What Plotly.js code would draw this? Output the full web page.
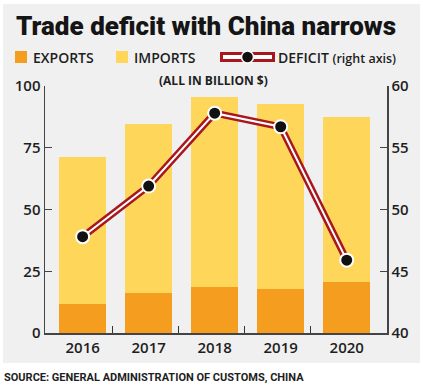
<!DOCTYPE html>
<html>
<head>
<meta charset="utf-8">
<script src="https://cdn.plot.ly/plotly-3.0.1.min.js"></script>
<style>
html,body{margin:0;padding:0;background:#fff;}
#chart{width:423px;height:385px;}
</style>
</head>
<body>
<div id="chart"></div>
<script>
// ---- data (billion $) ----
const years = [2016, 2017, 2018, 2019, 2020];
const exportsVals = [11.9, 16.2, 18.6, 17.8, 20.8];
const importsVals = [59.2, 68.3, 76.8, 74.9, 66.8];
const deficitVals = [47.8, 51.9, 57.8, 56.7, 45.9];
const leftTicks = [0, 25, 50, 75, 100];
const rightTicks = [40, 45, 50, 55, 60];

// ---- style ----
const cExport = '#f49d1e';
const cImport = '#fdd65a';
const cRed = '#a8171d';
const bg = '#f0f0f0';
const ink = '#1e1e1e';
const FONT = 'Roboto, "Open Sans", sans-serif';
const FONT2 = '"Open Sans", Roboto, sans-serif';

// plot-area pixel geometry
const L = 45, R = 387, T = 86, B = 333, W = 423, H = 385;
const px = x => (x - L) / (R - L);
const py = y => (B - y) / (B - T);

const traces = [
  { type: 'bar', x: years, y: exportsVals, name: 'EXPORTS', marker: { color: cExport }, width: 0.71, hoverinfo: 'y' },
  { type: 'bar', x: years, y: importsVals, name: 'IMPORTS', marker: { color: cImport }, width: 0.71, hoverinfo: 'y' },
  { type: 'scatter', mode: 'lines', x: years, y: deficitVals, yaxis: 'y2', line: { color: cRed, width: 7 }, hoverinfo: 'skip' },
  { type: 'scatter', mode: 'lines+markers', x: years, y: deficitVals, yaxis: 'y2', name: 'DEFICIT',
    line: { color: '#ffffff', width: 2 },
    marker: { color: '#111111', size: 13, line: { color: '#ffffff', width: 2 } } },
  // invisible carrier for the between-category tick axis
  { type: 'scatter', mode: 'markers', x: years, y: exportsVals, xaxis: 'x2', marker: { opacity: 0 }, hoverinfo: 'skip' }
];

const shapes = [
  { type: 'rect', xref: 'paper', yref: 'paper', x0: px(3), x1: px(420), y0: py(363), y1: py(4), fillcolor: bg, line: { width: 0 }, layer: 'below' },
  // legend swatches
  { type: 'rect', xref: 'paper', yref: 'paper', x0: px(15), x1: px(27), y0: py(63), y1: py(51), fillcolor: cExport, line: { width: 0 } },
  { type: 'rect', xref: 'paper', yref: 'paper', x0: px(116), x1: px(128), y0: py(63), y1: py(51), fillcolor: cImport, line: { width: 0 } },
  { type: 'rect', xref: 'paper', yref: 'paper', x0: px(220), x1: px(275), y0: py(62), y1: py(52), fillcolor: cRed, line: { width: 0 } },
  { type: 'rect', xref: 'paper', yref: 'paper', x0: px(223), x1: px(272), y0: py(59), y1: py(55), fillcolor: '#ffffff', line: { width: 0 } },
  { type: 'circle', xref: 'paper', yref: 'paper', x0: px(241.5), x1: px(253.5), y0: py(63), y1: py(51), fillcolor: '#111111', line: { color: '#ffffff', width: 1.5 } }
];

const ann = (text, x, y, size, opts) => Object.assign({
  text, xref: 'paper', yref: 'paper', x: px(x), y: py(y), xanchor: 'left', yanchor: 'middle',
  showarrow: false, font: { family: FONT2, size, color: ink, weight: 600 }
}, opts || {});

const annotations = [
  ann('Trade deficit with China narrows', 14, 26, 26, { font: { family: FONT, size: 26, color: '#151515', weight: 900 } }),
  ann('EXPORTS', 31, 57.5, 14),
  ann('IMPORTS', 132, 57.5, 14),
  ann('DEFICIT <span style="font-size:12.5px">(right axis)</span>', 276, 57.5, 14),
  ann('(ALL IN BILLION $)', 213, 81, 12, { xanchor: 'center', font: { family: FONT2, size: 12, color: ink, weight: 700 } }),
  ann('SOURCE: GENERAL ADMINISTRATION OF CUSTOMS, CHINA', 2, 377, 11, { font: { family: FONT, size: 11, color: ink, weight: 700 } })
];

const tickFont = { family: FONT2, size: 15, color: ink, weight: 600 };
const xRange = [2015.43, 2020.61];

const layout = {
  width: W, height: H,
  margin: { l: L, r: W - R, t: T, b: H - B, pad: 0 },
  paper_bgcolor: 'rgba(0,0,0,0)',
  plot_bgcolor: 'rgba(0,0,0,0)',
  showlegend: false,
  barmode: 'stack',
  font: { family: FONT, color: ink },
  xaxis: {
    type: 'linear', range: xRange, showgrid: false, zeroline: false,
    tickvals: years, ticktext: years.map(String),
    showline: true, linecolor: '#444', linewidth: 1.5, ticks: '',
    tickfont: tickFont, fixedrange: true
  },
  xaxis2: {
    type: 'linear', overlaying: 'x', side: 'top', anchor: 'free', position: 0, range: xRange,
    tickvals: years.slice(0, -1).map(y => y + 0.45), showticklabels: false,
    ticks: 'outside', ticklen: 7, tickcolor: '#333', tickwidth: 1.6,
    showgrid: false, zeroline: false, showline: false, fixedrange: true
  },
  yaxis: {
    range: [0, 100], tickvals: leftTicks, ticktext: leftTicks.map(String),
    showgrid: false, zeroline: false, showline: true, linecolor: '#444', linewidth: 1.5,
    ticks: 'inside', ticklen: 7, tickcolor: '#444', tickwidth: 1.2,
    tickfont: tickFont, fixedrange: true
  },
  yaxis2: {
    overlaying: 'y', side: 'right', range: [40, 60], tickvals: rightTicks, ticktext: rightTicks.map(String),
    showgrid: false, zeroline: false, showline: true, linecolor: '#444', linewidth: 1.5,
    ticks: 'inside', ticklen: 7, tickcolor: '#444', tickwidth: 1.2,
    tickfont: tickFont, fixedrange: true
  },
  shapes, annotations
};

Plotly.newPlot('chart', traces, layout, { displayModeBar: false, staticPlot: true });
</script>
</body>
</html>
